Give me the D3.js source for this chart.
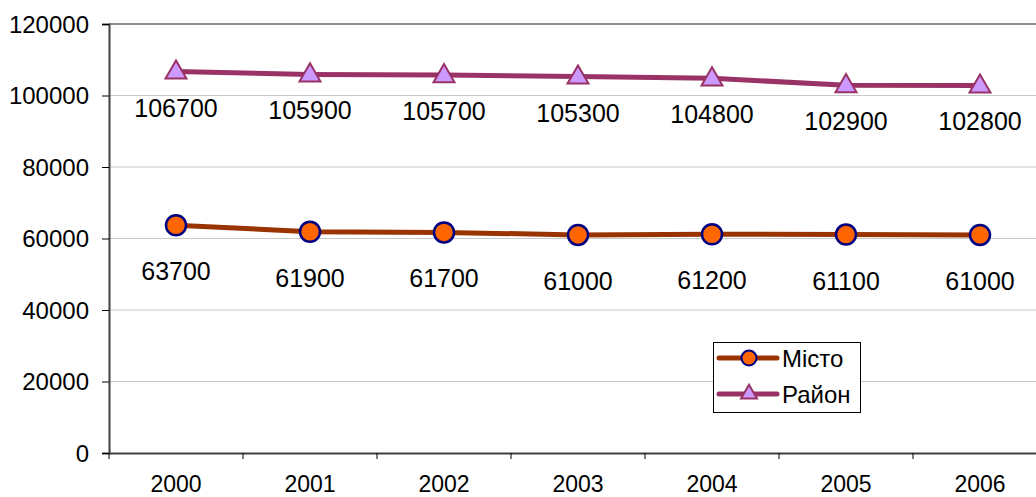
<!DOCTYPE html>
<html><head><meta charset="utf-8">
<script src="https://cdn.jsdelivr.net/npm/d3@7"></script>
<style>
html,body{margin:0;padding:0;background:#fff;}
svg{display:block;font-family:"Liberation Sans",Arial,sans-serif;}
</style></head>
<body>
<svg id="chart" width="1036" height="497"></svg>
<script>
const years = ["2000","2001","2002","2003","2004","2005","2006"];
const misto = [63700,61900,61700,61000,61200,61100,61000];
const raion = [106700,105900,105700,105300,104800,102900,102800];
const yTicks = [0,20000,40000,60000,80000,100000,120000];
const seriesNames = ["Місто","Район"];

(function(){
const svg = d3.select("#chart");
const pLeft = 109, pTop = 24, pBottom = 453, pRight = 1047;
const FONT = "Liberation Sans, Arial, sans-serif";

const x = d3.scaleBand().domain(years).range([pLeft, pRight]);
const y = d3.scaleLinear().domain([0,120000]).range([pBottom, pTop]);

svg.append("g").selectAll("line").data(yTicks.filter(d=>d>0)).join("line")
  .attr("x1", pLeft).attr("x2", pRight)
  .attr("y1", d=>y(d)).attr("y2", d=>y(d))
  .attr("stroke", d=> d===120000 ? "#909090" : "#c8c8c8").attr("stroke-width", d=> d===120000 ? 2 : 1);

const yAxis = svg.append("g").attr("transform", `translate(${pLeft},0)`)
  .call(d3.axisLeft(y).tickValues(yTicks).tickFormat(d3.format("d")).tickSize(7).tickPadding(13));
yAxis.select(".domain").attr("stroke","#404040").attr("stroke-width",2);
yAxis.selectAll(".tick line").attr("stroke","#000");
yAxis.selectAll("text").attr("font-size",24).attr("fill","#000").attr("font-family",FONT).attr("dy","0.34em");

const xAxis = svg.append("g").attr("transform", `translate(0,${pBottom})`)
  .call(d3.axisBottom(x).tickSize(0).tickPadding(23));
xAxis.select(".domain").attr("stroke","#404040").attr("stroke-width",2);
xAxis.selectAll("text").attr("font-size",23).attr("fill","#000").attr("font-family",FONT);
svg.append("g").selectAll("line").data(years).join("line")
  .attr("x1", d=>x(d)).attr("x2", d=>x(d))
  .attr("y1", pBottom).attr("y2", pBottom+6)
  .attr("stroke","#000").attr("stroke-width",1);

const cx = d => x(d) + x.bandwidth()/2;
const line = d3.line().x((d,i)=>cx(years[i])).y(d=>y(d));

svg.append("path").datum(raion).attr("d", line)
  .attr("fill","none").attr("stroke","#993366").attr("stroke-width",5);
svg.append("path").datum(misto).attr("d", line)
  .attr("fill","none").attr("stroke","#993300").attr("stroke-width",5);

const tri = d3.symbol().type(d3.symbolTriangle).size(190);
function drawTri(g, px, py){
  g.append("path").attr("d", tri()).attr("transform",`translate(${px},${py+1})`)
   .attr("fill","#cc99ff").attr("stroke","#993366").attr("stroke-width",2);
}
function drawCircle(g, px, py){
  g.append("circle").attr("cx",px).attr("cy",py).attr("r",10)
   .attr("fill","#ff6600").attr("stroke","#000080").attr("stroke-width",2.5);
}
const mk = svg.append("g");
raion.forEach((v,i)=>drawTri(mk, cx(years[i]), y(v)));
misto.forEach((v,i)=>drawCircle(mk, cx(years[i]), y(v)));

svg.append("g").selectAll("text").data(raion).join("text")
  .attr("x",(d,i)=>cx(years[i])).attr("y",d=>y(d)+45)
  .attr("text-anchor","middle").attr("font-size",25).attr("fill","#000")
  .text(d=>d);
svg.append("g").selectAll("text").data(misto).join("text")
  .attr("x",(d,i)=>cx(years[i])).attr("y",d=>y(d)+55)
  .attr("text-anchor","middle").attr("font-size",25).attr("fill","#000")
  .text(d=>d);

const lg = svg.append("g");
lg.append("rect").attr("x",713.5).attr("y",342.5).attr("width",147).attr("height",70)
  .attr("fill","#fff").attr("stroke","#000").attr("stroke-width",1);
const items = [{name:seriesNames[0], col:"#993300", m:"c", yy:358},{name:seriesNames[1], col:"#993366", m:"t", yy:394}];
items.forEach(it=>{
  lg.append("line").attr("x1",719).attr("x2",777).attr("y1",it.yy).attr("y2",it.yy)
    .attr("stroke",it.col).attr("stroke-width",5).attr("stroke-linecap","round");
  if(it.m==="c"){
    lg.append("circle").attr("cx",749).attr("cy",it.yy).attr("r",7.5)
      .attr("fill","#ff6600").attr("stroke","#000080").attr("stroke-width",2);
  } else {
    lg.append("path").attr("d", d3.symbol().type(d3.symbolTriangle).size(110)())
      .attr("transform",`translate(749,${it.yy})`)
      .attr("fill","#cc99ff").attr("stroke","#993366").attr("stroke-width",2);
  }
  lg.append("text").attr("x",782).attr("y",it.yy+9).attr("font-size",24).attr("fill","#000").attr("font-family",FONT).text(it.name);
});
})();
</script>
</body></html>
